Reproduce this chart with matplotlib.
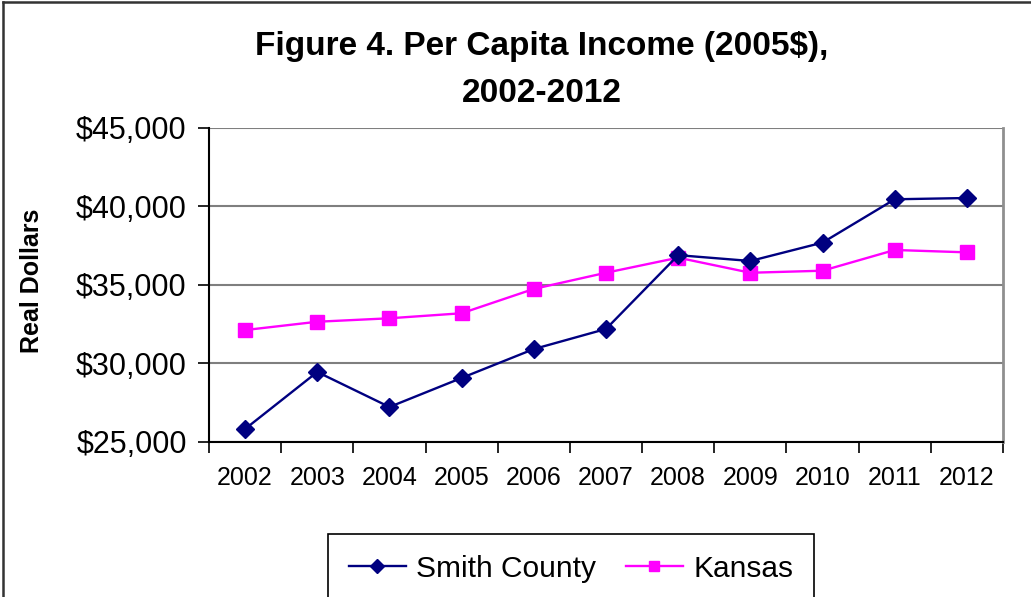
import numpy as np
import matplotlib
matplotlib.use("Agg")
import matplotlib.pyplot as plt
from matplotlib.lines import Line2D
from matplotlib.ticker import FuncFormatter, FixedLocator

# Daten
years = ["2002", "2003", "2004", "2005", "2006", "2007", "2008", "2009", "2010", "2011", "2012"]
smith_county = [25830, 29460, 27230, 29080, 30920, 32200, 36900, 36530, 37700, 40460, 40540]
kansas = [32130, 32660, 32880, 33200, 34750, 35780, 36740, 35780, 35910, 37230, 37080]

plt.rcParams["font.family"] = ["Liberation Sans", "DejaVu Sans"]

W, H = 1031, 597
fig = plt.figure(figsize=(W / 100, H / 100), dpi=100)
ax = fig.add_axes([209 / W, 1 - 442 / H, (1003 - 209) / W, (442 - 128) / H])

x = np.arange(len(years))
ax.plot(x, smith_county, color="#000080", lw=1.7, marker="D", ms=9.5,
        markeredgecolor="#000080", label="Smith County", zorder=4)
ax.plot(x, kansas, color="#FF00FF", lw=1.7, marker="s", ms=9.5,
        markeredgecolor="#FF00FF", label="Kansas", zorder=3)

ax.set_xlim(-0.5, len(years) - 0.5)
ax.set_ylim(25000, 45000)

# Y-Achse
ax.set_yticks(np.arange(25000, 45001, 5000))
ax.yaxis.set_major_formatter(FuncFormatter(lambda v, p: f"${v:,.0f}"))
ax.tick_params(axis="y", direction="out", length=8, width=1.2, pad=8,
               labelsize=22, color="black")
ax.grid(axis="y", color="#7f7f7f", lw=1.5, zorder=0)

# X-Achse: Striche zwischen den Kategorien, Beschriftung in der Mitte
ax.xaxis.set_major_locator(FixedLocator(np.arange(-0.5, len(years), 1.0)))
ax.xaxis.set_minor_locator(FixedLocator(x))
ax.set_xticklabels([], minor=False)
ax.set_xticklabels(years, minor=True)
ax.tick_params(axis="x", which="major", direction="out", length=8, width=1.2, color="black")
ax.tick_params(axis="x", which="minor", length=0, pad=17, labelsize=18)

for side in ["left", "bottom"]:
    ax.spines[side].set_color("black")
    ax.spines[side].set_linewidth(1.5)
ax.spines["top"].set_visible(False)
ax.spines["right"].set_color("#8f8f8f")
ax.spines["right"].set_linewidth(2)

# Achsentitel Y
fig.text(32 / W, 1 - 281 / H, "Real Dollars", rotation=90, ha="center", va="center",
         fontsize=18, fontweight="bold")

# Titel
fig.text(542 / W, 1 - 47 / H, "Figure 4. Per Capita Income (2005$),", ha="center", va="center",
         fontsize=24, fontweight="bold")
fig.text(542 / W, 1 - 93 / H, "2002-2012", ha="center", va="center",
         fontsize=24, fontweight="bold")

# Achsentitel X (vom Legendenrahmen verdeckt)
fig.text(590 / W, 1 - 545 / H, "Year", ha="center", va="center", fontsize=18, fontweight="bold")

# Rahmen des Diagrammbereichs
fig.add_artist(Line2D([3 / W, 3 / W], [0, 1 - 2 / H], color="#333333", lw=1.8))
fig.add_artist(Line2D([3 / W, 1], [1 - 2 / H, 1 - 2 / H], color="#333333", lw=1.8))

leg = fig.legend(loc="upper left", bbox_to_anchor=(328 / W, 1 - 534 / H), ncol=2,
                 fontsize=21.5, frameon=True, fancybox=False, edgecolor="black",
                 framealpha=1, facecolor="white",
                 borderpad=0.7, handlelength=1.9, handletextpad=0.35, columnspacing=1.0,
                 borderaxespad=0)
leg.get_frame().set_linewidth(1.2)
leg.set_zorder(10)
for h in leg.legend_handles:
    h.set_markersize(7)

fig.savefig("out.png", dpi=100)
